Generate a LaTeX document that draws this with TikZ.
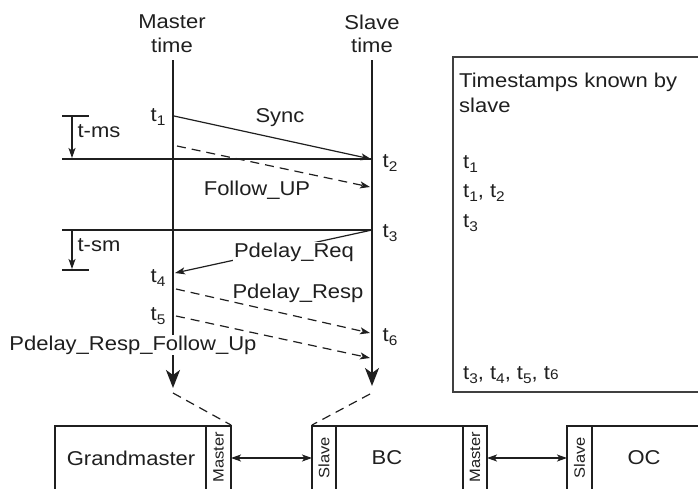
\documentclass[tikz,border=0pt]{standalone}
\usepackage{fontspec}
\setmainfont[FakeStretch=1.1]{Liberation Sans}
\usetikzlibrary{arrows.meta}
\newcommand\tsub[2]{#1\raisebox{-4.5pt}{\fontsize{14}{14}\selectfont #2}}
\begin{document}
\begin{tikzpicture}[x=1pt,y=-1pt,
  lbl/.style={font=\fontsize{20}{22}\selectfont, inner sep=0pt, text=black!88},
  vlbl/.style={font=\fontsize{15}{16}\selectfont, inner sep=0pt, rotate=90, text=black!88},
  timeline/.style={line width=2pt, draw=black!88, -{Stealth[length=18pt,width=14pt,inset=5pt]}},
  msg/.style={line width=1.2pt, draw=black!88, -{Stealth[length=10pt,width=7pt,inset=2.5pt]}},
  dmsg/.style={msg, dash pattern=on 9pt off 6pt},
  plain/.style={line width=1.2pt, draw=black!88},
  dlink/.style={line width=1.2pt, draw=black!88, dash pattern=on 9pt off 6pt},
  box/.style={line width=1.2pt, draw=black!88},
  dbl/.style={line width=1.2pt, draw=black!88, {Stealth[length=10pt,width=7pt,inset=2.5pt]}-{Stealth[length=10pt,width=7pt,inset=2.5pt]}}]
\useasboundingbox (0,0) rectangle (698,488);
\clip (0,0) rectangle (698,488);

% headings
\node[lbl] (mh1) at (172,22) {Master};
\node[lbl] (mh2) at (172,45) {time};
\node[lbl] (sh1) at (372,22) {Slave};
\node[lbl] (sh2) at (372,45) {time};

% time lines
\coordinate (mtop) at (173,60); \coordinate (mbot) at (173,388);
\coordinate (stop) at (372,60); \coordinate (sbot) at (372,386);
\draw[timeline] (mtop) -- (mbot);
\draw[timeline] (stop) -- (sbot);

% reference horizontal lines
\coordinate (h1a) at (62,159); \coordinate (h1b) at (372,159);
\coordinate (h2a) at (62,230); \coordinate (h2b) at (372,230);
\draw[plain] (h1a) -- (h1b);
\draw[plain] (h2a) -- (h2b);

% t-ms bracket
\coordinate (msa) at (62,116); \coordinate (msb) at (89,116);
\coordinate (msv1) at (72,116); \coordinate (msv2) at (72,158);
\draw[plain] (msa) -- (msb);
\draw[msg] (msv1) -- (msv2);
\node[lbl] (tms) at (99,131) {t-ms};

% t-sm bracket
\coordinate (sma) at (62,270); \coordinate (smb) at (89,270);
\coordinate (smv1) at (72,230); \coordinate (smv2) at (72,269);
\draw[plain] (sma) -- (smb);
\draw[msg] (smv1) -- (smv2);
\node[lbl] (tsm) at (99,245) {t-sm};

% messages
\coordinate (s1) at (174,116); \coordinate (s2) at (371,159);
\draw[msg] (s1) -- (s2);
\node[lbl] (sync) at (280,118) {Sync};

\coordinate (f1) at (177,146); \coordinate (f2) at (370,187);
\draw[dmsg] (f1) -- (f2);
\node[lbl] (fu) at (257,190) {Follow\_UP};

\coordinate (r1) at (372,230); \coordinate (r2) at (175,273);
\draw[msg] (r1) -- (r2);
\node[lbl, fill=white, inner sep=1pt] (preq) at (294,252) {Pdelay\_Req};

\coordinate (p1) at (176,289); \coordinate (p2) at (370,333);
\draw[dmsg] (p1) -- (p2);
\node[lbl] (presp) at (298,293) {Pdelay\_Resp};

\coordinate (q1) at (176,316); \coordinate (q2) at (370,358);
\draw[dmsg] (q1) -- (q2);
\node[lbl, fill=white, inner xsep=0pt, inner ysep=1pt] (pfu) at (133,345) {Pdelay\_Resp\_Follow\_Up};

% timestamps
\node[lbl] (t1) at (158,117) {\tsub{t}{1}};
\node[lbl] (t2) at (390,163) {\tsub{t}{2}};
\node[lbl] (t3) at (390,233) {\tsub{t}{3}};
\node[lbl] (t4) at (158,278) {\tsub{t}{4}};
\node[lbl] (t5) at (158,316) {\tsub{t}{5}};
\node[lbl] (t6) at (390,337) {\tsub{t}{6}};

% right box
\draw[box, line width=1.5pt, draw=black!75] (453,57) rectangle (720,392);
\node[lbl, anchor=base west] (ts1) at (459,87) {Timestamps known by};
\node[lbl, anchor=base west] (ts2) at (459,112) {slave};
\node[lbl, anchor=base west] (k1) at (463,168) {\tsub{t}{1}};
\node[lbl, anchor=base west] (k2) at (463,197) {\tsub{t}{1}, \tsub{t}{2}};
\node[lbl, anchor=base west] (k3) at (463,227) {\tsub{t}{3}};
\node[lbl, anchor=base west] (k4) at (463,379) {\tsub{t}{3}, \tsub{t}{4}, \tsub{t}{5}, t{\fontsize{14}{14}\selectfont 6}};

% bottom boxes
\draw[box] (55,426) rectangle (231,500);
\draw[box] (206,426) -- (206,500);
\node[lbl] (gm) at (131,458) {Grandmaster};
\node[vlbl] (gmm) at (218.5,457) {Master};

\draw[box] (312,426) rectangle (487,500);
\draw[box] (336,426) -- (336,500);
\draw[box] (463,426) -- (463,500);
\node[lbl] (bc) at (387,458) {BC};
\node[vlbl] (bcs) at (324,458) {Slave};
\node[vlbl] (bcm) at (475,457) {Master};

\draw[box] (567,426) rectangle (720,500);
\draw[box] (592,426) -- (592,500);
\node[lbl] (oc) at (644,458) {OC};
\node[vlbl] (ocs) at (579.5,458) {Slave};

% links
\coordinate (a1) at (231,458); \coordinate (a2) at (312,458);
\coordinate (a3) at (487,458); \coordinate (a4) at (567,458);
\draw[dbl] (a1) -- (a2);
\draw[dbl] (a3) -- (a4);

\coordinate (d1) at (173,393); \coordinate (d2) at (231,425);
\coordinate (d3) at (370,394); \coordinate (d4) at (312,425);
\draw[dlink] (d1) -- (d2);
\draw[dlink] (d3) -- (d4);
\end{tikzpicture}
\end{document}
